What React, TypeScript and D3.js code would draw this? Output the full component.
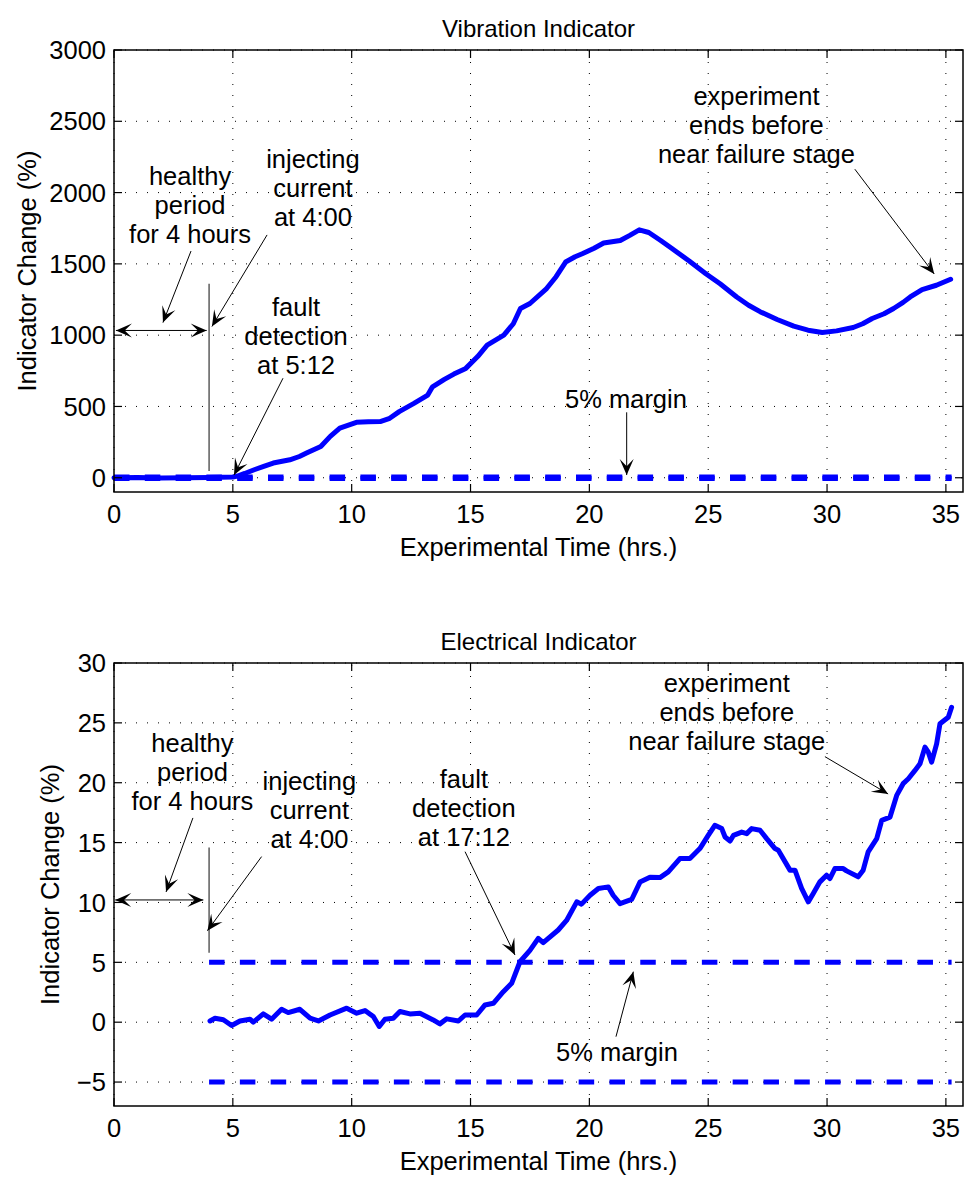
import React from "react";
import * as d3 from "d3";

// ---- data ----
const TIME_TICKS = [0, 5, 10, 15, 20, 25, 30, 35];
const VIB_TICKS = [0, 500, 1000, 1500, 2000, 2500, 3000];
const ELEC_TICKS = [-5, 0, 5, 10, 15, 20, 25, 30];

// [hours, indicator change %]
const VIB_SERIES: [number, number][] = [
  [0, 0], [1, 2], [2, -2], [3, 0], [4, 2], [4.5, 3], [5, 5], [5.2, 12], [5.5, 30],
  [5.9, 56], [6.3, 80], [6.7, 103], [7.4, 126], [7.8, 149], [8.1, 173], [8.7, 219],
  [9.1, 290], [9.5, 348], [10.2, 389], [10.7, 392], [11.2, 394], [11.6, 417],
  [12.0, 464], [12.6, 520], [13.2, 580], [13.4, 638], [13.9, 690], [14.3, 727],
  [14.8, 767], [15.3, 850], [15.7, 930], [16.4, 1000], [16.8, 1080], [17.1, 1187],
  [17.5, 1222], [18.2, 1327], [18.6, 1410], [19.0, 1513], [19.4, 1550], [19.7, 1571],
  [20.2, 1610], [20.6, 1646], [21.3, 1664], [21.7, 1700], [22.1, 1739], [22.5, 1720],
  [23.0, 1664], [23.4, 1617], [24.2, 1520], [24.9, 1431], [25.5, 1360], [26.2, 1268],
  [26.7, 1210], [27.2, 1163], [27.9, 1110], [28.6, 1063], [29.2, 1035], [29.8, 1019],
  [30.4, 1030], [31.1, 1054], [31.5, 1080], [31.9, 1117], [32.4, 1150], [32.8, 1187],
  [33.2, 1230], [33.5, 1268], [34.0, 1320], [34.6, 1350], [35.2, 1392],
];

const ELEC_SERIES: [number, number][] = [
  [4.04, 0.1], [4.25, 0.33], [4.6, 0.2], [4.95, -0.28], [5.3, 0.1], [5.72, 0.25],
  [5.86, 0], [6.28, 0.69], [6.63, 0.25], [7.05, 1.08], [7.33, 0.8], [7.82, 1.08],
  [8.25, 0.33], [8.6, 0.1], [9.09, 0.6], [9.79, 1.17], [10.21, 0.75], [10.56, 0.97],
  [10.91, 0.47], [11.16, -0.36], [11.4, 0.25], [11.75, 0.33], [12.03, 0.89],
  [12.45, 0.69], [12.87, 0.75], [13.43, 0.19], [13.71, -0.14], [14.0, 0.28],
  [14.49, 0.1], [14.77, 0.6], [15.26, 0.6], [15.61, 1.44], [15.96, 1.58],
  [16.38, 2.55], [16.73, 3.25], [17.08, 5.05], [17.5, 6.0], [17.85, 7.0],
  [18.06, 6.64], [18.69, 7.7], [19.04, 8.5], [19.47, 10.05], [19.67, 9.86],
  [20.03, 10.6], [20.38, 11.17], [20.8, 11.3], [21.0, 10.6], [21.29, 9.9],
  [21.78, 10.25], [22.13, 11.7], [22.55, 12.1], [22.97, 12.08], [23.32, 12.55],
  [23.81, 13.67], [24.23, 13.67], [24.65, 14.5], [25.0, 15.6], [25.28, 16.44],
  [25.57, 16.17], [25.71, 15.47], [25.92, 15.13], [26.06, 15.6], [26.41, 15.88],
  [26.62, 15.75], [26.83, 16.17], [27.18, 16.03], [27.46, 15.33], [27.81, 14.5],
  [27.95, 14.36], [28.44, 12.7], [28.65, 12.7], [28.93, 11.17], [29.21, 10.05],
  [29.42, 10.75], [29.7, 11.72], [29.98, 12.28], [30.12, 12.0], [30.33, 12.83],
  [30.68, 12.83], [30.82, 12.64], [31.31, 12.14], [31.52, 12.7], [31.73, 14.22],
  [32.09, 15.33], [32.3, 16.86], [32.65, 17.13], [32.93, 18.94], [33.2, 19.92],
  [33.42, 20.33], [33.7, 21.03], [33.91, 21.58], [34.12, 22.97], [34.26, 22.55],
  [34.4, 21.72], [34.61, 23.25], [34.75, 24.92], [35.1, 25.47], [35.24, 26.3],
];

// 5% margin lines: [start hour, end hour], levels
const VIB_MARGIN_SPAN = [0, 35.24];
const ELEC_MARGIN_SPAN = [4, 35.24];
const MARGIN_LEVELS = [5, -5];

// text notes: first-line anchor in data units
const VIB_NOTES = [
  { lines: ["healthy", "period", "for 4 hours"], at: [3.2, 2052] },
  { lines: ["injecting", "current", "at 4:00"], at: [8.37, 2173] },
  { lines: ["fault", "detection", "at 5:12"], at: [7.66, 1136] },
  { lines: ["5% margin"], at: [21.54, 487] },
  { lines: ["experiment", "ends before", "near failure stage"], at: [27.03, 2617] },
];
const ELEC_NOTES = [
  { lines: ["healthy", "period", "for 4 hours"], at: [3.3, 22.6] },
  { lines: ["injecting", "current", "at 4:00"], at: [8.22, 19.4] },
  { lines: ["fault", "detection", "at 17:12"], at: [14.72, 19.6] },
  { lines: ["5% margin"], at: [21.16, -3.2] },
  { lines: ["experiment", "ends before", "near failure stage"], at: [25.78, 27.6] },
];

// arrows: tail -> tip (data units)
const VIB_ARROWS = [
  { from: [3.24, 1590], to: [2.06, 1088] },
  { from: [6.44, 1703], to: [4.12, 1061] },
  { from: [7.11, 698], to: [5.05, 19] },
  { from: [21.57, 459], to: [21.57, 19] },
  { from: [31.17, 2164], to: [34.51, 1429] },
  { from: [0.08, 1033], to: [3.9, 1033], both: true },
];
const ELEC_ARROWS = [
  { from: [3.32, 17.06], to: [2.19, 10.88] },
  { from: [6.21, 13.83], to: [3.93, 7.64] },
  { from: [14.77, 14.24], to: [16.87, 5.61] },
  { from: [21.12, -1.21], to: [21.85, 4.22] },
  { from: [29.91, 22.18], to: [32.57, 19.06] },
  { from: [0.05, 10.21], to: [3.76, 10.21], both: true },
];

// injection marker at 4:00
const VIB_MARKER = { x: 4, y: [47, 1361] };
const ELEC_MARKER = { x: 4, y: [5.8, 14.6] };

const FONT = "'Liberation Sans', Arial, Helvetica, sans-serif";
const FS = 25.5;
const TITLE_FS = 24;
const LINE_H = 29;

function Arrow({ x1, y1, x2, y2, both }: { x1: number; y1: number; x2: number; y2: number; both?: boolean }) {
  const L = 16;
  const W = 14;
  const head = (tx: number, ty: number, sx: number, sy: number) => {
    const a = Math.atan2(ty - sy, tx - sx);
    const c = Math.cos(a), s = Math.sin(a);
    const pt = (u: number, v: number) => `${tx + u * c - v * s},${ty + u * s + v * c}`;
    return `M${pt(0, 0)}L${pt(-L, W / 2)}L${pt(-L * 0.55, 0)}L${pt(-L, -W / 2)}Z`;
  };
  return (
    <g>
      <line x1={x1} y1={y1} x2={x2} y2={y2} stroke="#000" strokeWidth={1} />
      <path d={head(x2, y2, x1, y1)} fill="#000" />
      {both && <path d={head(x1, y1, x2, y2)} fill="#000" />}
    </g>
  );
}

interface PanelProps {
  title: string;
  top: number;
  bottom: number;
  yDomain: [number, number];
  yTicks: number[];
  series: [number, number][];
  marginSpan: number[];
  notes: { lines: string[]; at: number[] }[];
  arrows: { from: number[]; to: number[]; both?: boolean }[];
  marker: { x: number; y: number[] };
  yLabelX: number;
}

function Panel(p: PanelProps) {
  const left = 114, right = 963;
  const x = d3.scaleLinear().domain([0, 35.72]).range([left, right]);
  const y = d3.scaleLinear().domain(p.yDomain).range([p.bottom, p.top]);
  const line = d3.line<[number, number]>().x((d) => x(d[0])).y((d) => y(d[1]));
  const fmt = d3.format("d");
  const tick = 8;

  return (
    <g fontFamily={FONT} fontSize={FS} fill="#000">
      {/* grid */}
      <g stroke="#000" strokeWidth={1} strokeDasharray="1 10">
        {TIME_TICKS.map((t) => (
          <line key={"gx" + t} x1={x(t)} x2={x(t)} y1={p.bottom} y2={p.top} />
        ))}
        {p.yTicks.map((t) => (
          <line key={"gy" + t} x1={left} x2={right} y1={y(t)} y2={y(t)} />
        ))}
      </g>

      {/* margin lines */}
      {MARGIN_LEVELS.map((m) => (
        <line
          key={"m" + m}
          x1={x(p.marginSpan[0])}
          x2={x(p.marginSpan[1])}
          y1={y(m)}
          y2={y(m)}
          stroke="#0000ff"
          strokeWidth={5}
          strokeDasharray="15.5 15.3"
        />
      ))}

      {/* indicator curve */}
      <path d={line(p.series) || ""} fill="none" stroke="#0000ff" strokeWidth={5} strokeLinejoin="round" strokeLinecap="round" />

      {/* axes box and ticks */}
      <rect x={left} y={p.top} width={right - left} height={p.bottom - p.top} fill="none" stroke="#000" strokeWidth={1.5} />
      <g stroke="#000" strokeWidth={1.2}>
        {TIME_TICKS.map((t) => (
          <g key={"tx" + t}>
            <line x1={x(t)} x2={x(t)} y1={p.bottom} y2={p.bottom - tick} />
            <line x1={x(t)} x2={x(t)} y1={p.top} y2={p.top + tick} />
          </g>
        ))}
        {p.yTicks.map((t) => (
          <g key={"ty" + t}>
            <line x1={left} x2={left + tick} y1={y(t)} y2={y(t)} />
            <line x1={right} x2={right - tick} y1={y(t)} y2={y(t)} />
          </g>
        ))}
      </g>
      {TIME_TICKS.map((t) => (
        <text key={"lx" + t} x={x(t)} y={p.bottom + 31} textAnchor="middle">
          {fmt(t)}
        </text>
      ))}
      {p.yTicks.map((t) => (
        <text key={"ly" + t} x={left - 8} y={y(t)} dy="0.36em" textAnchor="end">
          {fmt(t)}
        </text>
      ))}

      {/* labels */}
      <text x={(left + right) / 2} y={p.top - 13} textAnchor="middle" fontSize={TITLE_FS}>
        {p.title}
      </text>
      <text x={(left + right) / 2} y={p.bottom + 64} textAnchor="middle">
        Experimental Time (hrs.)
      </text>
      <text
        transform={`translate(${p.yLabelX},${(p.top + p.bottom) / 2}) rotate(-90)`}
        textAnchor="middle"
        dy="0.36em"
      >
        Indicator Change (%)
      </text>

      {/* annotations */}
      <line
        x1={x(p.marker.x)}
        x2={x(p.marker.x)}
        y1={y(p.marker.y[0])}
        y2={y(p.marker.y[1])}
        stroke="#333"
        strokeWidth={1.2}
      />
      {p.arrows.map((a, i) => (
        <Arrow key={"a" + i} x1={x(a.from[0])} y1={y(a.from[1])} x2={x(a.to[0])} y2={y(a.to[1])} both={a.both} />
      ))}
      {p.notes.map((n, i) => (
        <text key={"n" + i} x={x(n.at[0])} y={y(n.at[1])} textAnchor="middle">
          {n.lines.map((l, j) => (
            <tspan key={j} x={x(n.at[0])} dy={j === 0 ? 0 : LINE_H}>
              {l}
            </tspan>
          ))}
        </text>
      ))}
    </g>
  );
}

export default function App() {
  return (
    <svg
      width={965}
      height={1177}
      style={{ position: "absolute", left: 0, top: 0, background: "#fff" }}
    >
      <rect width={965} height={1177} fill="#fff" />
      <Panel
        title="Vibration Indicator"
        top={50}
        bottom={492}
        yDomain={[-100, 3000]}
        yTicks={VIB_TICKS}
        series={VIB_SERIES}
        marginSpan={VIB_MARGIN_SPAN}
        notes={VIB_NOTES}
        arrows={VIB_ARROWS}
        marker={VIB_MARKER}
        yLabelX={27}
      />
      <Panel
        title="Electrical Indicator"
        top={663}
        bottom={1106}
        yDomain={[-7, 30]}
        yTicks={ELEC_TICKS}
        series={ELEC_SERIES}
        marginSpan={ELEC_MARGIN_SPAN}
        notes={ELEC_NOTES}
        arrows={ELEC_ARROWS}
        marker={ELEC_MARKER}
        yLabelX={50}
      />
    </svg>
  );
}
